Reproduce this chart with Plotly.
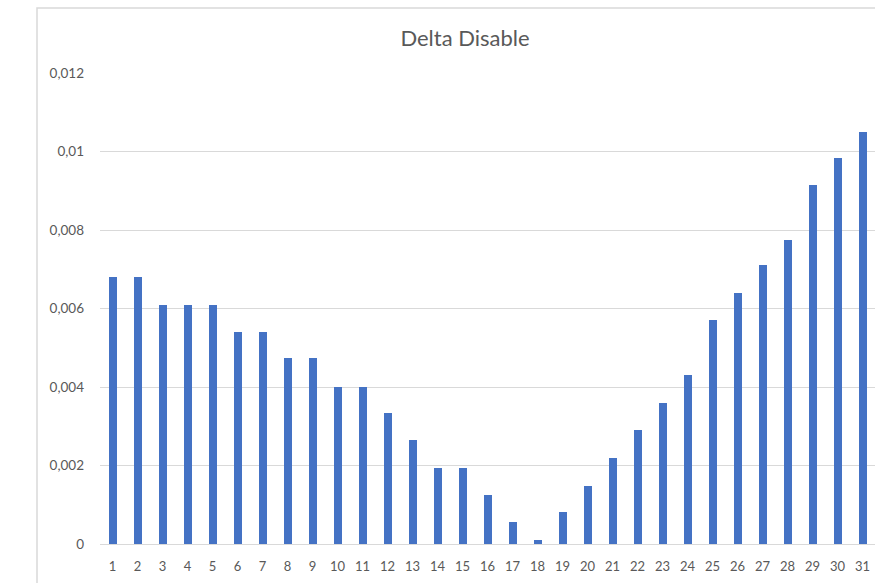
import plotly.graph_objects as go

categories = [str(i) for i in range(1, 32)]
values = [0.0068, 0.0068, 0.0061, 0.0061, 0.0061, 0.0054, 0.0054, 0.00474, 0.00474,
          0.0040, 0.0040, 0.00334, 0.00265, 0.00194, 0.00194, 0.00125, 0.00056, 0.0001,
          0.00082, 0.00148, 0.00219, 0.0029, 0.0036, 0.0043, 0.0057, 0.0064, 0.0071,
          0.00775, 0.00915, 0.00983, 0.0105]
title_text = "Delta Disable"

fig = go.Figure(go.Bar(x=categories, y=values, marker_color="#4472C4",
                       marker_line_width=0, width=0.32))

L, R, T, B = 100, 0, 73, 39
W, H = 875, 583
pw, ph = W - L - R, H - T - B

fig.add_shape(type="rect", xref="paper", yref="paper",
              x0=(37 - L) / pw, x1=1.2, y0=-0.3, y1=(H - B - 8) / ph,
              line=dict(color="#d9d9d9", width=1.5), layer="below")

fig.update_layout(
    width=W, height=H,
    margin=dict(l=L, r=R, t=T, b=B),
    plot_bgcolor="white", paper_bgcolor="white",
    separators=",.",
    showlegend=False,
    bargap=0,
    font=dict(family="Lato, Noto Sans, sans-serif", color="#595959"),
    title=dict(text=title_text, x=465 / W, xanchor="center",
               y=1 - 38 / H, yanchor="middle",
               font=dict(size=22, color="#595959")),
    xaxis=dict(type="category", showgrid=False, showline=True, linecolor="#d9d9d9",
               linewidth=1, ticks="", tickfont=dict(size=13, color="#595959"),
               ticklabelstandoff=10),
    yaxis=dict(range=[0, 0.012], dtick=0.002, tick0=0, showgrid=True,
               gridcolor="#d9d9d9", gridwidth=1, zeroline=False, showline=False,
               ticks="", tickfont=dict(size=13.5, color="#595959"),
               ticklabelstandoff=15),
)

fig.write_html("out.html", config={"displayModeBar": False},
               post_script="document.body.style.margin='0';document.body.style.overflow='hidden';")
